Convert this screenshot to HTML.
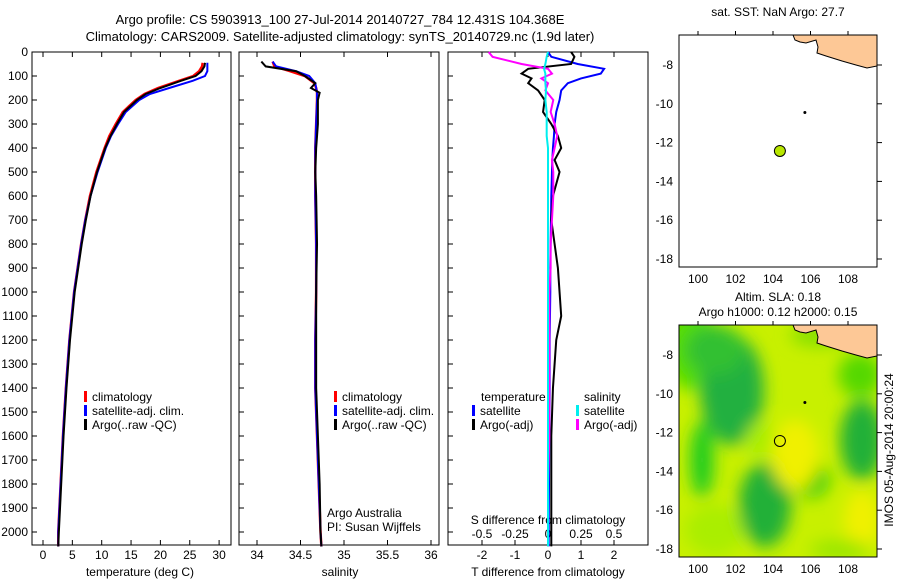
<!DOCTYPE html>
<html><head><meta charset="utf-8"><style>
body{margin:0;background:#fff;width:900px;height:580px;overflow:hidden}
svg{font-family:"Liberation Sans",sans-serif;font-size:12px}
</style></head><body>
<svg id="s" width="900" height="580" xmlns="http://www.w3.org/2000/svg">
<defs><filter id="bl" x="-50%" y="-50%" width="200%" height="200%"><feGaussianBlur stdDeviation="8"/></filter>
<clipPath id="c2"><rect x="679" y="325" width="198" height="232"/></clipPath>
<clipPath id="c1"><rect x="679" y="35" width="198" height="232"/></clipPath></defs>
<text x="340" y="24" text-anchor="middle" font-size="13">Argo profile: CS 5903913_100 27-Jul-2014 20140727_784 12.431S 104.368E</text>
<text x="340" y="41" text-anchor="middle" font-size="13">Climatology: CARS2009. Satellite-adjusted climatology: synTS_20140729.nc (1.9d later)</text>
<g id="g"></g>
</svg>
<script>
// ---- data ----
const depthT = [45,60,80,100,120,150,175,200,250,300,350,400,500,600,700,800,1000,1200,1400,1600,1800,2000,2060];
const argoTemp = [27.6,27.5,27.0,26.0,23.5,20.0,17.5,16.0,13.8,12.6,11.5,10.6,9.2,8.1,7.3,6.6,5.4,4.6,4.0,3.5,3.1,2.7,2.6];
const climTemp = [27.2,27.1,26.6,25.6,23.2,19.6,17.3,15.8,13.6,12.4,11.3,10.5,9.1,8.0,7.2,6.5,5.3,4.5,3.9,3.4,3.0,2.6,2.6];
const satTemp  = [28.0,28.0,28.0,27.6,25.5,21.5,18.2,16.4,14.1,12.8,11.6,10.7,9.3,8.1,7.2,6.5,5.3,4.5,3.9,3.4,3.0,2.6,2.6];
const depthS = [40,60,80,100,130,150,170,200,300,400,500,600,800,1000,1200,1400,1600,1800,2000,2060];
const argoSal = [34.05,34.1,34.45,34.55,34.67,34.62,34.72,34.7,34.7,34.68,34.67,34.68,34.69,34.68,34.68,34.68,34.70,34.72,34.73,34.74];
const climSal = [34.18,34.2,34.38,34.55,34.66,34.68,34.69,34.69,34.68,34.67,34.67,34.67,34.68,34.68,34.67,34.67,34.69,34.71,34.73,34.74];
const satSal  = [34.18,34.22,34.45,34.6,34.67,34.68,34.69,34.69,34.68,34.67,34.67,34.67,34.68,34.68,34.67,34.67,34.69,34.71,34.73,34.74];
const depthD = [0,20,50,70,90,110,130,160,200,250,300,350,400,450,500,600,700,800,900,1000,1100,1200,1400,1600,1800,2000,2060];
const satTdiff  = [0.0,0.1,0.9,1.7,1.6,1.0,0.6,0.4,0.35,0.25,0.2,0.18,0.15,0.13,0.12,0.1,0.09,0.08,0.07,0.07,0.06,0.05,0.05,0.04,0.03,0.02,0.02];
const argoTdiff = [0.7,0.8,0.7,-0.6,-0.8,-0.5,-0.6,-0.3,-0.1,-0.15,0.1,0.3,0.4,0.2,0.35,0.15,0.1,0.2,0.3,0.35,0.4,0.25,0.15,0.1,0.1,0.1,0.1];
const satSdiff  = [0.0,-0.01,-0.02,-0.03,-0.02,-0.02,-0.02,-0.015,-0.02,-0.01,-0.01,-0.01,0.0,0.0,0.0,0.0,0.0,0.0,0.0,0.0,0.0,0.0,0.0,0.0,0.0,0.0,0.0];
const argoSdiff = [-0.45,-0.42,-0.2,0.0,0.03,-0.05,0.0,-0.02,0.04,0.02,0.05,0.07,0.05,0.03,0.04,0.04,0.03,0.02,0.02,0.01,0.01,0.01,0.01,0.01,0.0,0.0,0.0];
const depthTicks = [0,100,200,300,400,500,600,700,800,900,1000,1100,1200,1300,1400,1500,1600,1700,1800,1900,2000];
const tempTicks = [0,5,10,15,20,25,30];
const salTicks = [34,34.5,35,35.5,36];
const tdTicks = [-2,-1,0,1,2];
const sdTicks = [-0.5,-0.25,0,0.25,0.5];
const lonTicks = [100,102,104,106,108];
const latTicks = [-8,-10,-12,-14,-16,-18];
const argoLon = 104.368, argoLat = -12.431;
// ---- helpers ----
const NS='http://www.w3.org/2000/svg', G=document.getElementById('g');
function mk(t,a,p){const e=document.createElementNS(NS,t);for(const k in a)e.setAttribute(k,a[k]);(p||G).appendChild(e);return e;}
const yD = d => 52 + d*0.24;
const xT = v => 43 + v*5.87;
const xS = v => 257 + (v-34)*87;
const xTd = v => 548 + v*33;
const xSd = v => 548 + v*132;
const mx = l => 698 + (l-100)*18.75;
const my1 = l => 65 + (-8-l)*19.4;
const my2 = l => 355 + (-8-l)*19.4;
function frame(x,y,w,h,name){const r=mk('rect',{x:x,y:y,width:w,height:h,fill:'none',stroke:'#000','stroke-width':1});}
function txt(x,y,s,anchor,name){const t=mk('text',{x:x,y:y,'text-anchor':anchor||'start'});t.textContent=s;return t;}
function line(xs,ds,xf,color,name,w){const p=mk('polyline',{points:xs.map((v,i)=>xf(v)+','+yD(ds[i])).join(' '),fill:'none',stroke:color,'stroke-width':w||2});}
function xticks(ticks,xf){ticks.forEach(t=>{mk('line',{x1:xf(t),x2:xf(t),y1:545,y2:540,stroke:'#000'});mk('line',{x1:xf(t),x2:xf(t),y1:52,y2:57,stroke:'#000'});txt(xf(t),559,String(t),'middle','x-tick-label');});}
// ---- panels ----
frame(32,52,199,493,'temperature-panel');frame(239,52,200,493,'salinity-panel');frame(448,52,200,493,'difference-panel');
depthTicks.forEach(d=>{txt(28,yD(d)+4,String(d),'end','y-tick-label');[32,239,448].forEach(x0=>{mk('line',{x1:x0,x2:x0+5,y1:yD(d),y2:yD(d),stroke:'#000'});});});
xticks(tempTicks,xT);xticks(salTicks,xS);xticks(tdTicks,xTd);
sdTicks.forEach(t=>{txt(xSd(t),538,String(t),'middle','s-diff-tick-label');});
txt(140,576,'temperature (deg C)','middle','x-axis-title-temperature');
txt(340,576,'salinity','middle','x-axis-title-salinity');
txt(548,576,'T difference from climatology','middle','x-axis-title-t-diff');
txt(548,524,'S difference from climatology','middle','axis-title-s-diff');
line(climTemp,depthT,xT,'#f00','clim-temp-line',2.5);line(satTemp,depthT,xT,'#00f','sat-temp-line',2);line(argoTemp,depthT,xT,'#000','argo-temp-line',2);
line(climSal,depthS,xS,'#f00','clim-sal-line',2.5);line(satSal,depthS,xS,'#00f','sat-sal-line',2);line(argoSal,depthS,xS,'#000','argo-sal-line',2);
line(satTdiff,depthD,xTd,'#00f','sat-t-diff-line',2);line(argoTdiff,depthD,xTd,'#000','argo-t-diff-line',2);
line(argoSdiff,depthD,xSd,'#f0f','argo-s-diff-line',2);line(satSdiff,depthD,xSd,'#0ee','sat-s-diff-line',2);
// legends
function leg(x,y,c,s,n){mk('rect',{x:x,y:y-10,width:3,height:11,fill:c});txt(x+8,y,s,'start',n);}
[[84,'legend-'],[334,'legend2-']].forEach(([x,n])=>{leg(x,401,'#f00','climatology',n+'climatology');leg(x,415,'#00f','satellite-adj. clim.',n+'satellite');leg(x,429,'#000','Argo(..raw -QC)',n+'argo');});
txt(481,401,'temperature','start','legend-temperature-header');txt(584,401,'salinity','start','legend-salinity-header');
leg(472,415,'#00f','satellite','legend-t-satellite');leg(472,429,'#000','Argo(-adj)','legend-t-argo');
leg(576,415,'#0ee','satellite','legend-s-satellite');leg(576,429,'#f0f','Argo(-adj)','legend-s-argo');
txt(327,517,'Argo Australia','start','credit-line-1');txt(327,531,'PI: Susan Wijffels','start','credit-line-2');
// ---- maps ----
function land(clip,dy){const p=mk('path',{d:'M793 35 L795 40 L800 42 L806 43 L816 40 L818 47 L817 53 L826 56 L842 61 L856 65 L867 68 L877 66 L877 35 Z',fill:'#fdc896',stroke:'#000','stroke-width':1,'clip-path':clip,transform:'translate(0,'+dy+')'});}
// map 2 heatmap
const m2=mk('g',{'clip-path':'url(#c2)'});
mk('rect',{x:679,y:325,width:198,height:232,fill:'#c8f000'},m2);
const bg=mk('g',{filter:'url(#bl)'},m2);
[[690,345,25,45,'#55dd00'],[732,390,32,55,'#22b040'],[715,350,30,25,'#33c030'],[702,460,12,38,'#22cc22'],[715,530,30,25,'#aaee00'],[765,505,26,42,'#20b038'],[810,480,20,18,'#44d010'],[862,440,22,40,'#22b038'],[860,375,22,22,'#55d800'],[820,335,30,12,'#88e000'],[795,455,24,35,'#f0f000'],[862,520,18,30,'#f0f000'],[760,440,14,18,'#aaee00'],[840,550,30,10,'#99e600']].forEach(c=>mk('ellipse',{cx:c[0],cy:c[1],rx:c[2],ry:c[3],fill:c[4]},bg));
land('url(#c1)',0);
const lg=mk('g',{'clip-path':'url(#c2)'});
mk('path',{d:'M793 325 L795 330 L800 332 L806 333 L816 330 L818 337 L817 343 L826 346 L842 351 L856 355 L867 358 L877 356 L877 325 Z',fill:'#fdc896',stroke:'#000'},lg);
frame(679,35,198,232,'sst-map');frame(679,325,198,232,'sla-map');
[[my1,35,267],[my2,325,557]].forEach(([f,t,b])=>{latTicks.forEach(l=>{txt(673,f(l)+4,String(l),'end','lat-tick-label');mk('line',{x1:877,x2:882,y1:f(l),y2:f(l),stroke:'#000'});});lonTicks.forEach(l=>{txt(mx(l),b+16,String(l),'middle','lon-tick-label');mk('line',{x1:mx(l),x2:mx(l),y1:t,y2:t-4,stroke:'#000'});});});
const d1=mk('circle',{cx:mx(argoLon),cy:my1(argoLat),r:5.5,fill:'#b8e600',stroke:'#000'});
const d2=mk('circle',{cx:mx(argoLon),cy:my2(argoLat),r:5.5,fill:'none',stroke:'#000'});
mk('circle',{cx:mx(105.7),cy:my1(-10.45),r:1.5,fill:'#000'});mk('circle',{cx:mx(105.7),cy:my2(-10.45),r:1.5,fill:'#000'});
txt(778,16,'sat. SST: NaN Argo: 27.7','middle','sst-map-title');
txt(778,301,'Altim. SLA: 0.18','middle','sla-map-title-1');
txt(778,316,'Argo h1000: 0.12 h2000: 0.15','middle','sla-map-title-2');
const v=txt(0,0,'IMOS 05-Aug-2014 20:00:24','middle','timestamp');v.setAttribute('transform','translate(893,450) rotate(-90)');
</script>
</body></html>
